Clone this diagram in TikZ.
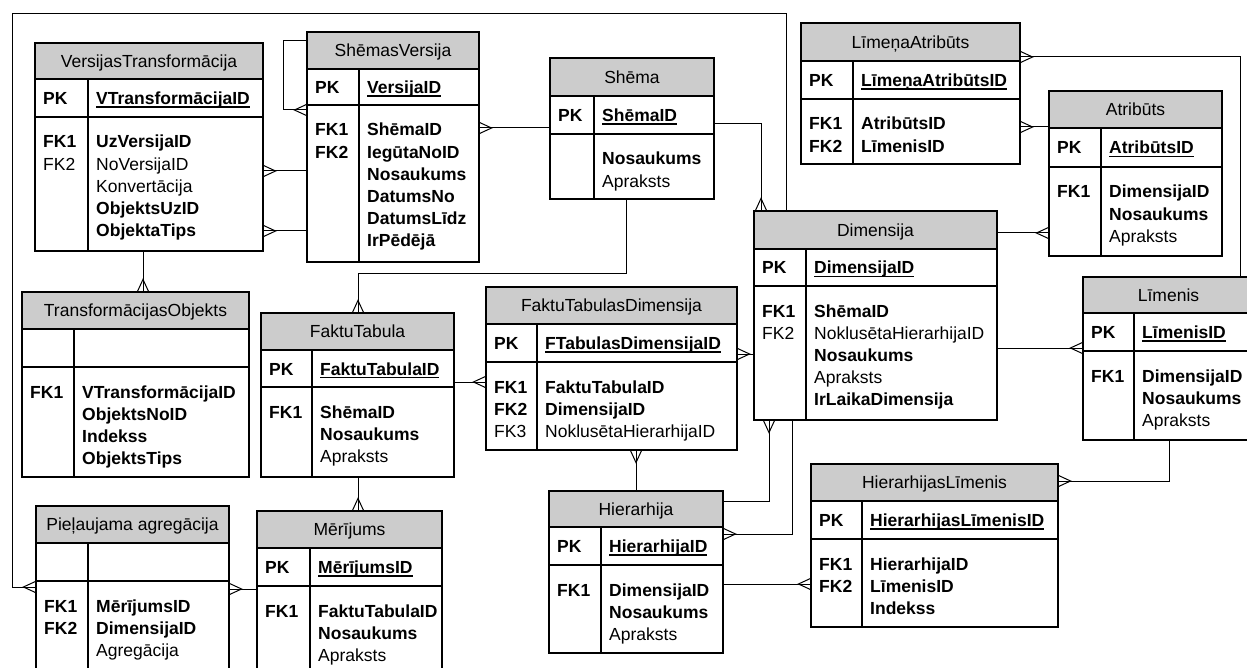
\documentclass[tikz,border=0pt]{standalone}
\usepackage{fontspec}
\setmainfont{Liberation Sans}
\usetikzlibrary{fit,calc}
\definecolor{hdrgray}{RGB}{204,204,204}

% underline at a fixed depth, independent of descenders
\newcommand\ulfield[1]{\setbox0=\hbox{#1}\rlap{\vrule height -1.8pt depth 3.2pt width \wd0}\box0}

\tikzset{
  tblline/.style={line width=1.2pt},
  tblbox/.style={draw, line width=1.2pt, inner sep=0pt},
  hdrfill/.style={fill=hdrgray},
  conn/.style={line width=1pt},
  cell/.style={anchor=base west, inner sep=0pt, font=\fontsize{17.5}{21}\selectfont},
  titletxt/.style={anchor=base, inner sep=0pt, font=\fontsize{17.5}{21}\selectfont},
  crow/.pic={\draw[conn] (0pt,-5.5pt) -- (12pt,0pt) -- (0pt,5.5pt);}
}

% #1 name, #2 left, #3 top, #4 right, #5 column divider,
% #6 header bottom, #7 key row bottom, #8 bottom, #9 title
\newcommand\ertable[9]{%
  \fill[hdrfill] (#2,#3) rectangle (#4,#6);
  \draw[tblline] (#2,#6) -- (#4,#6) (#2,#7) -- (#4,#7) (#5,#6) -- (#5,#8);
  \node[tblbox, fit={(#2,#3) (#4,#8)}] (#1) {};
  \node[titletxt] (#1-title) at ({(#2+#4)/2},{(#3+#6)/2+6.3}) {#9};
  \coordinate (#1-k) at ({#2+8},{(#6+#7)/2+6.5});
  \coordinate (#1-f) at ({#5+8},{(#6+#7)/2+6.5});
  \coordinate (#1-b) at ({#2+8},{#7+31});
  \coordinate (#1-c) at ({#5+8},{#7+31});
}
\newcommand\erpk[2]{%
  \node[cell] (#1-pk) at (#1-k) {\bfseries PK};
  \node[cell] (#1-pkf) at (#1-f) {\bfseries\ulfield{#2}};
}
\newcommand\erkeys[2]{%
  \foreach \ftxt [count=\i from 0] in {#2}
    \node[cell] (#1-k\i) at ($(#1-b)+(0,{22.2*\i})$) {\ftxt};
}
\newcommand\erfields[2]{%
  \foreach \ftxt [count=\i from 0] in {#2}
    \node[cell] (#1-f\i) at ($(#1-c)+(0,{22.2*\i})$) {\ftxt};
}

\begin{document}
\begin{tikzpicture}[x=1pt, y=-1pt]
\useasboundingbox (0,0) rectangle (1247,668);
\clip (0,0) rectangle (1247,668);
\fill[white] (0,0) rectangle (1247,668);

% ---------- tables ----------
\ertable{VT}{35}{43}{263}{88}{79}{117}{251}{VersijasTransformācija}
\erpk{VT}{VTransformācijaID}
\erkeys{VT}{{\bfseries FK1}, FK2}
\erfields{VT}{{\bfseries UzVersijaID}, NoVersijaID, Konvertācija, {\bfseries ObjektsUzID}, {\bfseries ObjektaTips}}

\ertable{SV}{307}{32}{479}{359}{69}{105}{262}{ShēmasVersija}
\erpk{SV}{VersijaID}
\erkeys{SV}{{\bfseries FK1}, {\bfseries FK2}}
\erfields{SV}{{\bfseries ShēmaID}, {\bfseries IegūtaNoID}, {\bfseries Nosaukums}, {\bfseries DatumsNo}, {\bfseries DatumsLīdz}, {\bfseries IrPēdējā}}

\ertable{SH}{550}{58}{714}{594}{96}{134}{199}{Shēma}
\erpk{SH}{ShēmaID}
\erfields{SH}{{\bfseries Nosaukums}, Apraksts}

\ertable{LA}{801}{23}{1020}{853}{61}{99}{164}{LīmeņaAtribūts}
\erpk{LA}{LīmeņaAtribūtsID}
\erkeys{LA}{{\bfseries FK1}, {\bfseries FK2}}
\erfields{LA}{{\bfseries AtribūtsID}, {\bfseries LīmenisID}}

\ertable{AT}{1049}{91}{1222}{1101}{128}{167}{256}{Atribūts}
\erpk{AT}{AtribūtsID}
\erkeys{AT}{{\bfseries FK1}}
\erfields{AT}{{\bfseries DimensijaID}, {\bfseries Nosaukums}, Apraksts}

\ertable{DIM}{754}{211}{997}{806}{249}{286}{420}{Dimensija}
\erpk{DIM}{DimensijaID}
\erkeys{DIM}{{\bfseries FK1}, FK2}
\erfields{DIM}{{\bfseries ShēmaID}, NoklusētaHierarhijaID, {\bfseries Nosaukums}, Apraksts, {\bfseries IrLaikaDimensija}}

\ertable{LIM}{1083}{277}{1254}{1134}{313}{351}{440}{Līmenis}
\erpk{LIM}{LīmenisID}
\erkeys{LIM}{{\bfseries FK1}}
\erfields{LIM}{{\bfseries DimensijaID}, {\bfseries Nosaukums}, Apraksts}

\ertable{HL}{811}{464}{1058}{862}{501}{539}{627}{HierarhijasLīmenis}
\erpk{HL}{HierarhijasLīmenisID}
\erkeys{HL}{{\bfseries FK1}, {\bfseries FK2}}
\erfields{HL}{{\bfseries HierarhijaID}, {\bfseries LīmenisID}, {\bfseries Indekss}}

\ertable{HIE}{549}{491}{723}{601}{527}{565}{653}{Hierarhija}
\erpk{HIE}{HierarhijaID}
\erkeys{HIE}{{\bfseries FK1}}
\erfields{HIE}{{\bfseries DimensijaID}, {\bfseries Nosaukums}, Apraksts}

\ertable{FTD}{486}{287}{737}{537}{324}{362}{450}{FaktuTabulasDimensija}
\erpk{FTD}{FTabulasDimensijaID}
\erkeys{FTD}{{\bfseries FK1}, {\bfseries FK2}, FK3}
\erfields{FTD}{{\bfseries FaktuTabulaID}, {\bfseries DimensijaID}, NoklusētaHierarhijaID}

\ertable{FT}{261}{313}{454}{312}{350}{387}{477}{FaktuTabula}
\erpk{FT}{FaktuTabulaID}
\erkeys{FT}{{\bfseries FK1}}
\erfields{FT}{{\bfseries ShēmaID}, {\bfseries Nosaukums}, Apraksts}

\ertable{MER}{257}{511}{442}{310}{548}{586}{690}{Mērījums}
\erpk{MER}{MērījumsID}
\erkeys{MER}{{\bfseries FK1}}
\erfields{MER}{{\bfseries FaktuTabulaID}, {\bfseries Nosaukums}, Apraksts}

\ertable{PA}{36}{506}{229}{88}{543}{581}{690}{Pieļaujama agregācija}
\erkeys{PA}{{\bfseries FK1}, {\bfseries FK2}}
\erfields{PA}{{\bfseries MērījumsID}, {\bfseries DimensijaID}, Agregācija}

\ertable{TO}{22}{292}{249}{74}{329}{367}{477}{TransformācijasObjekts}
\erkeys{TO}{{\bfseries FK1}}
\erfields{TO}{{\bfseries VTransformācijaID}, {\bfseries ObjektsNoID}, {\bfseries Indekss}, {\bfseries ObjektsTips}}

% ---------- relationships ----------
\draw[conn] (VT.east |- 0,171) -- (SV.west |- 0,171);
\pic[rotate=0] at (VT.east |- 0,171) {crow};
\draw[conn] (VT.east |- 0,231) -- (SV.west |- 0,231);
\pic[rotate=0] at (VT.east |- 0,231) {crow};

\draw[conn] (SV.west |- 0,41) -| (283,110) -- (SV.west |- 0,110);
\pic[rotate=180] at (SV.west |- 0,110) {crow};

\draw[conn] (SV.east |- 0,128) -- (SH.west |- 0,128);
\pic[rotate=0] at (SV.east |- 0,128) {crow};

\draw[conn] (SH.east |- 0,124) -| (DIM.north -| 761,0);
\pic[rotate=90] at (DIM.north -| 761,0) {crow};

\draw[conn] (SH.south -| 626,0) |- (358,274) -- (FT.north -| 358,0);
\pic[rotate=90] at (FT.north -| 358,0) {crow};

\draw[conn] (DIM.north -| 786,0) |- (12,14) |- (PA.west |- 0,587);
\pic[rotate=180] at (PA.west |- 0,587) {crow};

\draw[conn] (LA.east |- 0,57) -| (LIM.north -| 1240,0);
\pic[rotate=0] at (LA.east |- 0,57) {crow};

\draw[conn] (LA.east |- 0,127) -- (AT.west |- 0,127);
\pic[rotate=0] at (LA.east |- 0,127) {crow};

\draw[conn] (DIM.east |- 0,233) -- (AT.west |- 0,233);
\pic[rotate=180] at (AT.west |- 0,233) {crow};

\draw[conn] (DIM.east |- 0,348) -- (LIM.west |- 0,348);
\pic[rotate=180] at (LIM.west |- 0,348) {crow};

\draw[conn] (FTD.east |- 0,354) -- (DIM.west |- 0,354);
\pic[rotate=0] at (FTD.east |- 0,354) {crow};

\draw[conn] (DIM.south -| 769,0) |- (HIE.east |- 0,501);
\pic[rotate=-90] at (DIM.south -| 769,0) {crow};

\draw[conn] (DIM.south -| 792,0) |- (HIE.east |- 0,534);
\pic[rotate=0] at (HIE.east |- 0,534) {crow};

\draw[conn] (LIM.south -| 1169,0) |- (HL.east |- 0,481);
\pic[rotate=0] at (HL.east |- 0,481) {crow};

\draw[conn] (HIE.east |- 0,584) -- (HL.west |- 0,584);
\pic[rotate=180] at (HL.west |- 0,584) {crow};

\draw[conn] (FTD.south -| 636,0) -- (HIE.north -| 636,0);
\pic[rotate=-90] at (FTD.south -| 636,0) {crow};

\draw[conn] (FT.east |- 0,382) -- (FTD.west |- 0,382);
\pic[rotate=180] at (FTD.west |- 0,382) {crow};

\draw[conn] (FT.south -| 358,0) -- (MER.north -| 358,0);
\pic[rotate=90] at (MER.north -| 358,0) {crow};

\draw[conn] (PA.east |- 0,589) -- (MER.west |- 0,589);
\pic[rotate=0] at (PA.east |- 0,589) {crow};

\draw[conn] (VT.south -| 143,0) -- (TO.north -| 143,0);
\pic[rotate=90] at (TO.north -| 143,0) {crow};
\end{tikzpicture}
\end{document}
